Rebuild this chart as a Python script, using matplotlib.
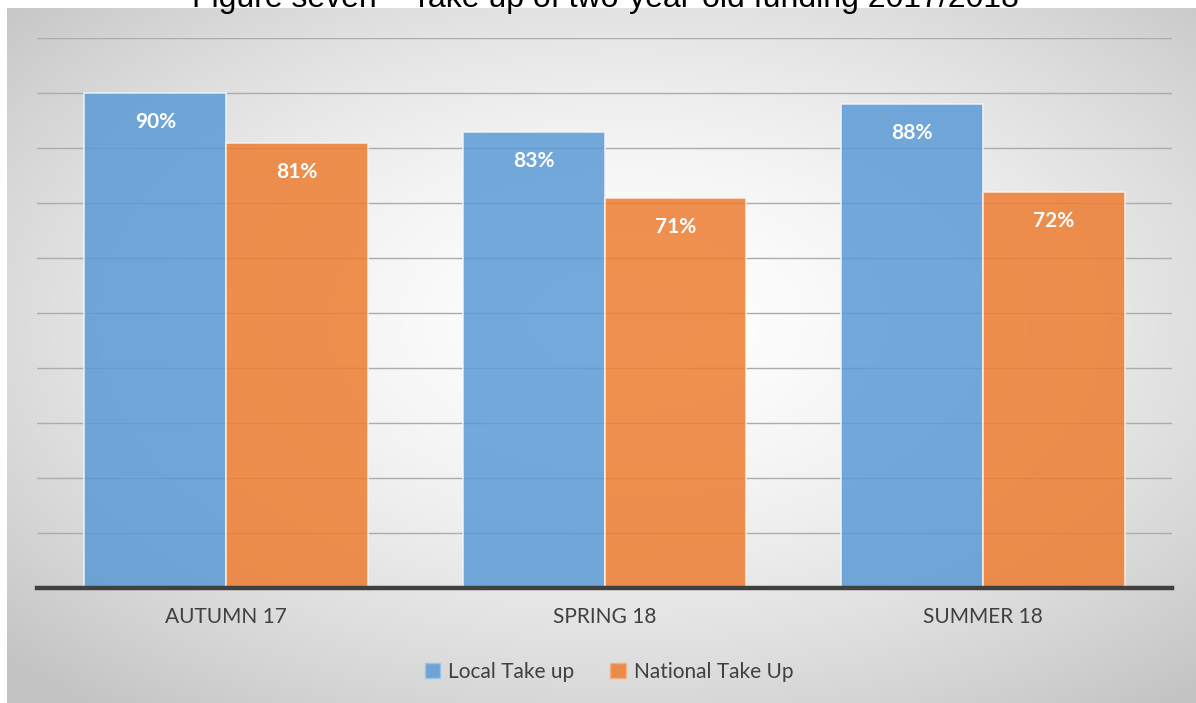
import numpy as np
import matplotlib
matplotlib.use("Agg")
import matplotlib.pyplot as plt
from matplotlib.patches import Patch

categories = ["AUTUMN 17", "SPRING 18", "SUMMER 18"]
local_take_up = [90, 83, 88]
national_take_up = [81, 71, 72]
series_names = ["Local Take up", "National Take Up"]
title = "Figure seven – Take up of two-year-old funding 2017/2018"

W, H = 1196, 703
fig = plt.figure(figsize=(W / 100, H / 100), dpi=100)
fig.patch.set_facecolor("white")

# gradient background of chart area
bg = fig.add_axes([7 / W, 0, 1 - 7 / W, (H - 8) / H], zorder=-5)
ny, nx = 300, 500
yy, xx = np.mgrid[0:ny, 0:nx]
cx, cy = nx * 0.52, ny * 0.45
r = np.sqrt(((xx - cx) / (nx / 2)) ** 2 + ((yy - cy) / (ny / 2)) ** 2) / np.sqrt(2)
v = 1.0 - 0.23 * np.clip(r, 0, 1) ** 1.6
img = np.dstack([v, v, v])
bg.imshow(img, aspect="auto", extent=[0, 1, 0, 1], origin="upper")
bg.axis("off")

ax = fig.add_axes([37 / W, (H - 588) / H, (1172 - 37) / W, (588 - 38) / H])
ax.set_facecolor("none")
x = np.arange(len(categories))
bw = 0.375
b1 = ax.bar(x - bw / 2, local_take_up, bw, color="#5B9BD5", alpha=0.85,
            edgecolor="#F2F7FC", linewidth=1.2, zorder=3)
b2 = ax.bar(x + bw / 2, national_take_up, bw, color="#ED7D31", alpha=0.85,
            edgecolor="#FDF2EA", linewidth=1.2, zorder=3)

for bars, vals in ((b1, local_take_up), (b2, national_take_up)):
    for rect, val in zip(bars, vals):
        ax.text(rect.get_x() + rect.get_width() / 2, val - 5.3, f"{val}%",
                ha="center", va="center", color="white", fontsize=15,
                fontweight="bold", family="Lato", zorder=4)

ax.set_xlim(-0.5, 2.5)
ax.set_ylim(0, 100)
ax.set_yticks(np.arange(10, 101, 10))
ax.yaxis.grid(True, color="#ACACAC", linewidth=1.0, zorder=0)
ax.tick_params(axis="y", length=0, labelleft=False)
ax.tick_params(axis="x", length=0, pad=14)
ax.set_xticks(x)
ax.set_xticklabels(categories, fontsize=15, color="#404040", family="Lato")
for s in ("top", "right", "left"):
    ax.spines[s].set_visible(False)
ax.spines["bottom"].set_color("#404040")
ax.spines["bottom"].set_linewidth(3.2)
ax.spines["bottom"].set_zorder(5)

handles = [Patch(facecolor="#5B9BD5", alpha=0.85, edgecolor="#9DC3E6"),
           Patch(facecolor="#ED7D31", alpha=0.85, edgecolor="#F4B183")]
fig.legend(handles, series_names, loc="center", bbox_to_anchor=(609 / W, 1 - 672 / H),
           ncol=2, frameon=False, handlelength=0.75, handleheight=0.75,
           handletextpad=0.4, columnspacing=1.7,
           prop={"family": "Lato", "size": 15})
for t in fig.legends[0].get_texts():
    t.set_color("#404040")

fig.text(605 / W, 1 - 7 / H, title, ha="center", va="baseline", fontsize=23,
         family="Liberation Sans", color="black")

fig.savefig("out.png", dpi=100)
